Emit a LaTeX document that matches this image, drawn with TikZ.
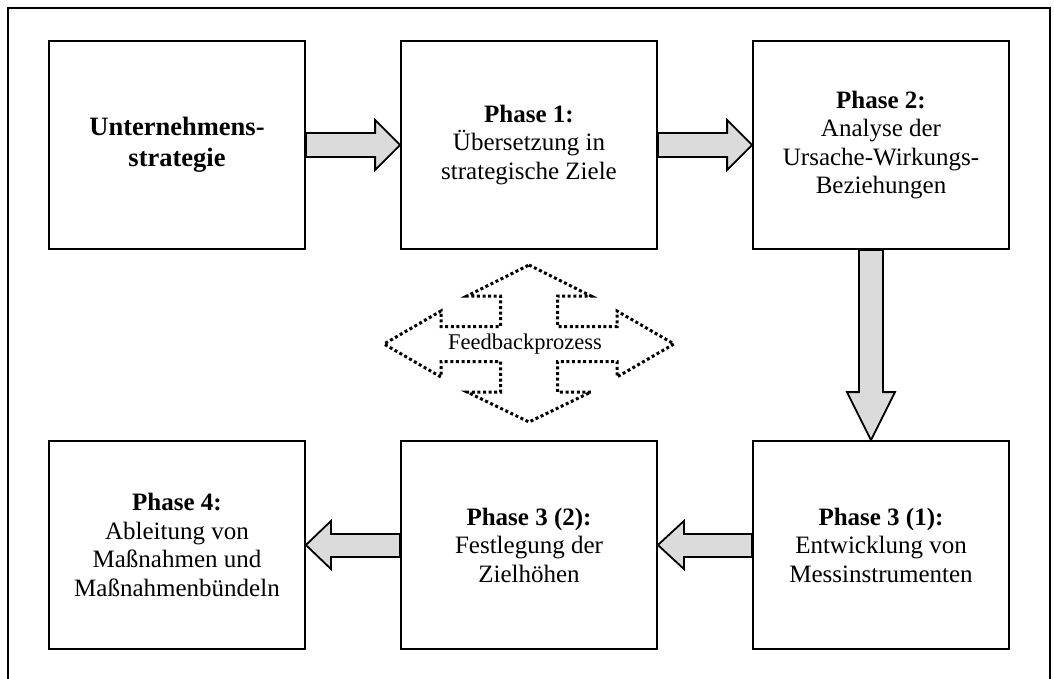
\documentclass[tikz,border=0pt]{standalone}
\usepackage{fontspec}
\setmainfont{Liberation Serif}
\usetikzlibrary{calc}
\tikzset{
  phasebox/.style={draw=black, line width=1.8pt, fill=white, minimum width=256pt, minimum height=208pt, inner sep=0pt, align=center, font=\fontsize{25}{28.5}\selectfont},
  barrow/.style={draw=black, line width=1.8pt, fill=black!14, line join=miter},
  fbarrow/.style={draw=black, line width=3pt, dash pattern=on 3pt off 2.6pt},
  frameline/.style={draw=black, line width=1.4pt}
}
\begin{document}
\begin{tikzpicture}[x=1pt,y=-1pt]
\useasboundingbox (0,0) rectangle (1054,679);
\draw[frameline] (8,679) -- (8,8) -- (1050,8) -- (1050,679);

\node[phasebox, font=\bfseries\fontsize{26.5}{31}\selectfont] (b1) at (177,145) {Unternehmens-\\strategie};
\node[phasebox] (b2) at (529,145) {\textbf{Phase 1:}\\Übersetzung in\\strategische Ziele};
\node[phasebox] (b3) at (881,145) {\textbf{Phase 2:}\\Analyse der\\Ursache-Wirkungs-\\Beziehungen};
\node[phasebox] (b4) at (177,545) {\textbf{Phase 4:}\\Ableitung von\\Maßnahmen und\\Maßnahmenbündeln};
\node[phasebox] (b5) at (529,545) {\textbf{Phase 3 (2):}\\Festlegung der\\Zielhöhen};
\node[phasebox] (b6) at (881,545) {\textbf{Phase 3 (1):}\\Entwicklung von\\Messinstrumenten};

% right arrows top row
\draw[barrow] ($(b1.east)+(0,-12)$) -- ($(b2.west)+(-25,-12)$) -- ($(b2.west)+(-25,-25)$) -- (b2.west) -- ($(b2.west)+(-25,25)$) -- ($(b2.west)+(-25,12)$) -- ($(b1.east)+(0,12)$) -- cycle;
\draw[barrow] ($(b2.east)+(0,-12)$) -- ($(b3.west)+(-25,-12)$) -- ($(b3.west)+(-25,-25)$) -- (b3.west) -- ($(b3.west)+(-25,25)$) -- ($(b3.west)+(-25,12)$) -- ($(b2.east)+(0,12)$) -- cycle;
% down arrow
\coordinate (dtip) at ($(b6.north)+(-10,0)$);
\draw[barrow] ($(b3.south)+(-22,0)$) -- ($(dtip)+(-12,-48)$) -- ($(dtip)+(-24,-48)$) -- (dtip) -- ($(dtip)+(24,-48)$) -- ($(dtip)+(12,-48)$) -- ($(b3.south)+(2,0)$) -- cycle;
% left arrows bottom row
\draw[barrow] ($(b6.west)+(0,-11)$) -- ($(b5.east)+(26,-11)$) -- ($(b5.east)+(26,-24)$) -- (b5.east) -- ($(b5.east)+(26,24)$) -- ($(b5.east)+(26,12)$) -- ($(b6.west)+(0,12)$) -- cycle;
\draw[barrow] ($(b5.west)+(0,-11)$) -- ($(b4.east)+(25,-11)$) -- ($(b4.east)+(25,-24)$) -- (b4.east) -- ($(b4.east)+(25,24)$) -- ($(b4.east)+(25,12)$) -- ($(b5.west)+(0,12)$) -- cycle;

% feedback arrow
\node[font=\fontsize{22.5}{26}\selectfont, inner sep=0pt] (fb) at (525,344) {Feedbackprozess};
\draw[fbarrow, shift={(529,344)}]
  (0,-79) -- (62,-48) -- (28.5,-48) -- (28.5,-17.5) -- (88,-17.5) -- (88,-33) -- (145,0)
  -- (88,33) -- (88,17.5) -- (28.5,17.5) -- (28.5,48) -- (62,48) -- (0,78)
  -- (-62,48) -- (-28.5,48) -- (-28.5,17.5) -- (-88,17.5) -- (-88,33) -- (-145,0)
  -- (-88,-33) -- (-88,-17.5) -- (-28.5,-17.5) -- (-28.5,-48) -- (-62,-48) -- cycle;
\end{tikzpicture}
\end{document}
